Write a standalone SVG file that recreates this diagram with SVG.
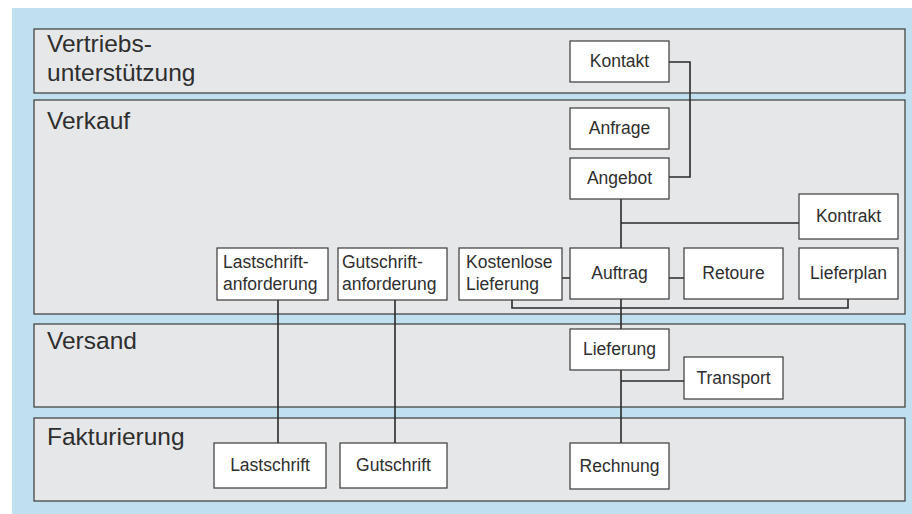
<svg xmlns="http://www.w3.org/2000/svg" width="912" height="514" viewBox="0 0 912 514">
<style>
.lane{fill:#e6e7e9;stroke:#3a3a3a;stroke-width:1.2}
.lt{font-family:"Liberation Sans",Arial,sans-serif;font-size:24.5px;fill:#2e2e2e}
.box{fill:#ffffff;stroke:#3a3a3a;stroke-width:1.2}
.t{font-family:"Liberation Sans",Arial,sans-serif;font-size:17.5px;fill:#2e2e2e}
.c{text-anchor:middle}
.con{fill:none;stroke:#2a2a2a;stroke-width:1.6}
</style>
<rect x="12" y="8" width="900" height="506" fill="#c0e0ef"/>
<g id="lanes">
<g id="lane-vertriebsunterstuetzung"><rect class="lane" x="34" y="29" width="871" height="64"/><text class="lt" x="47" y="52">Vertriebs-</text><text class="lt" x="47" y="81">unterstützung</text></g>
<g id="lane-verkauf"><rect class="lane" x="34" y="100" width="871" height="214"/><text class="lt" x="47" y="129">Verkauf</text></g>
<g id="lane-versand"><rect class="lane" x="34" y="324" width="871" height="83"/><text class="lt" x="47" y="349">Versand</text></g>
<g id="lane-fakturierung"><rect class="lane" x="34" y="418" width="871" height="83"/><text class="lt" x="47" y="445">Fakturierung</text></g>
</g>
<g id="connectors">
<path class="con" d="M669 62H690V177H669"/>
<path class="con" d="M621 199V248"/>
<path class="con" d="M621 223H799"/>
<path class="con" d="M562 278H570M669 278H684"/>
<path class="con" d="M512 300V308H848V299"/>
<path class="con" d="M621 299V329"/>
<path class="con" d="M621 370V443"/>
<path class="con" d="M621 381H684"/>
<path class="con" d="M278 300V443"/>
<path class="con" d="M395 300V443"/>
</g>
<g id="kontakt"><rect class="box" x="570" y="41" width="99" height="41"/><text class="t c" x="619.5" y="67">Kontakt</text></g>
<g id="anfrage"><rect class="box" x="570" y="108" width="99" height="41"/><text class="t c" x="619.5" y="134">Anfrage</text></g>
<g id="angebot"><rect class="box" x="570" y="158" width="99" height="41"/><text class="t c" x="619.5" y="184">Angebot</text></g>
<g id="kontrakt"><rect class="box" x="799" y="194" width="99" height="45"/><text class="t c" x="848.5" y="222">Kontrakt</text></g>
<g id="kostenlose-lieferung"><rect class="box" x="459" y="248" width="103" height="52"/><text class="t" x="466" y="268">Kostenlose</text><text class="t" x="466" y="290">Lieferung</text></g>
<g id="auftrag"><rect class="box" x="570" y="248" width="99" height="51"/><text class="t c" x="619.5" y="279">Auftrag</text></g>
<g id="retoure"><rect class="box" x="684" y="248" width="99" height="51"/><text class="t c" x="733.5" y="279">Retoure</text></g>
<g id="lieferplan"><rect class="box" x="799" y="248" width="99" height="51"/><text class="t c" x="848.5" y="279">Lieferplan</text></g>
<g id="lastschriftanforderung"><rect class="box" x="217" y="248" width="111" height="52"/><text class="t" x="223" y="268">Lastschrift-</text><text class="t" x="223" y="290">anforderung</text></g>
<g id="gutschriftanforderung"><rect class="box" x="338" y="248" width="109" height="52"/><text class="t" x="342" y="268">Gutschrift-</text><text class="t" x="342" y="290">anforderung</text></g>
<g id="lieferung"><rect class="box" x="570" y="329" width="99" height="41"/><text class="t c" x="619.5" y="355">Lieferung</text></g>
<g id="transport"><rect class="box" x="684" y="357" width="99" height="42"/><text class="t c" x="733.5" y="384">Transport</text></g>
<g id="lastschrift"><rect class="box" x="214" y="443" width="112" height="45"/><text class="t c" x="270" y="471">Lastschrift</text></g>
<g id="gutschrift"><rect class="box" x="340" y="443" width="107" height="45"/><text class="t c" x="393.5" y="471">Gutschrift</text></g>
<g id="rechnung"><rect class="box" x="570" y="443" width="99" height="46"/><text class="t c" x="619.5" y="472">Rechnung</text></g>
</svg>
